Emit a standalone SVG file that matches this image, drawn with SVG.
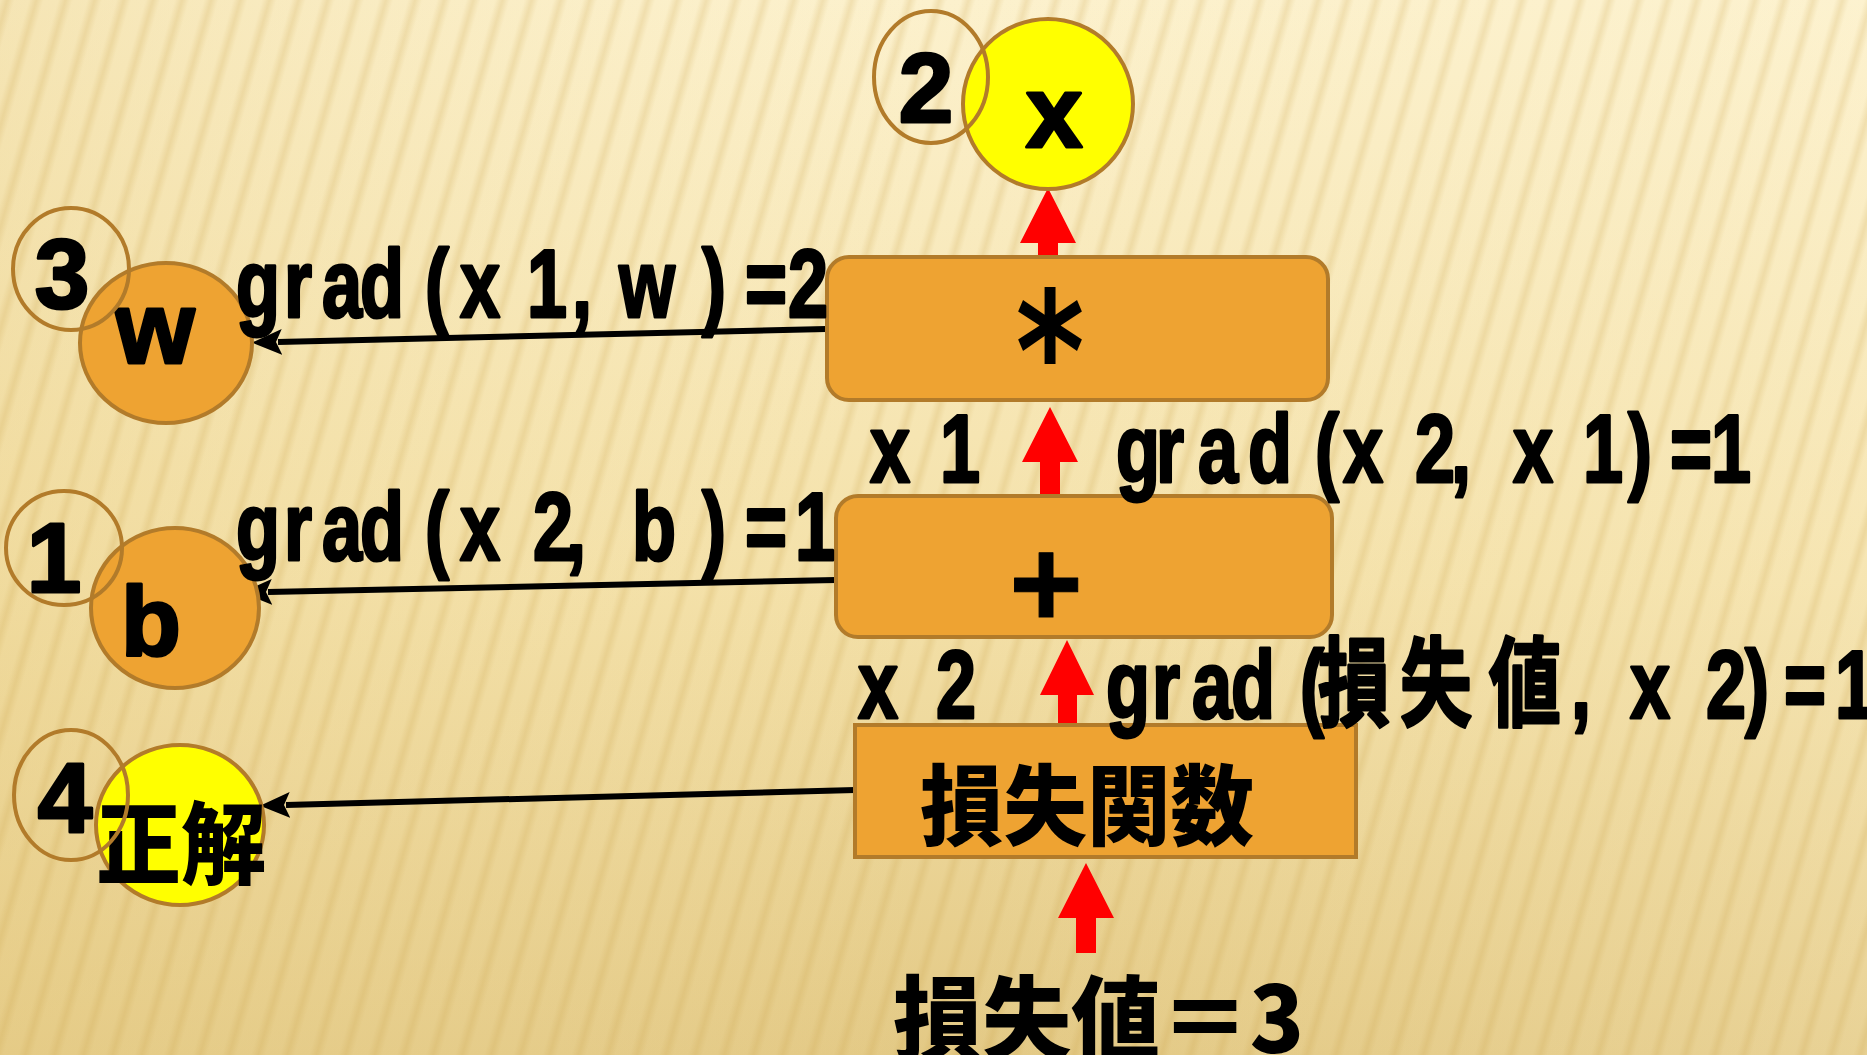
<svg xmlns="http://www.w3.org/2000/svg" width="1867" height="1055" viewBox="0 0 1867 1055">
<defs>
<linearGradient id="bg" x1="0" y1="0" x2="0" y2="1">
<stop offset="0" stop-color="#FCF1CD"/>
<stop offset="0.55" stop-color="#F4E1A9"/>
<stop offset="1" stop-color="#E3C985"/>
</linearGradient>
<linearGradient id="bgSide" x1="0" y1="0" x2="1" y2="0">
<stop offset="0" stop-color="#E9CF88" stop-opacity="0.35"/>
<stop offset="0.5" stop-color="#F6E6B4" stop-opacity="0"/>
<stop offset="1" stop-color="#FFF6D8" stop-opacity="0.2"/>
</linearGradient>
<linearGradient id="stripeGrad" x1="0" y1="0" x2="1" y2="0">
<stop offset="0" stop-color="#C9A24A" stop-opacity="0"/>
<stop offset="0.5" stop-color="#C9A24A" stop-opacity="0.22"/>
<stop offset="1" stop-color="#C9A24A" stop-opacity="0"/>
</linearGradient>
<pattern id="stripes" width="28" height="40" patternUnits="userSpaceOnUse" patternTransform="rotate(16)">
<rect x="0" y="0" width="14" height="40" fill="url(#stripeGrad)"/>
</pattern>
<marker id="ah" markerUnits="userSpaceOnUse" markerWidth="30" markerHeight="28" viewBox="0 0 30 28" refX="4" refY="14" orient="auto">
<path d="M30,14 L0,1 L6,14 L0,27 Z" fill="#000"/>
</marker>
<style>
.t{font-family:"Liberation Sans","Noto Sans CJK JP",sans-serif;font-weight:bold;fill:#000;stroke:#000;stroke-width:3;stroke-linejoin:round}
.num{font-size:98px;text-anchor:middle}
.lab{font-size:96px;stroke-width:3}
.cjk{font-family:"Noto Sans CJK JP",sans-serif;font-weight:900;fill:#000}
.ring{fill:none;stroke:#B27B2A;stroke-width:4}
.orange{fill:#EEA332;stroke:#B27B2A;stroke-width:4}
.yellow{fill:#FFFF00;stroke:#B27B2A;stroke-width:4}
.edge{stroke:#000;stroke-width:6;fill:none;marker-end:url(#ah)}
.red{fill:#FF0000}
</style>
</defs>

<rect x="0" y="0" width="1867" height="1055" fill="url(#bg)"/>
<rect x="0" y="0" width="1867" height="1055" fill="url(#bgSide)"/>
<rect x="0" y="0" width="1867" height="1055" fill="url(#stripes)"/>

<g id="connectors">
<line class="edge" x1="826" y1="329" x2="278" y2="342"/>
<line class="edge" x1="836" y1="580" x2="268" y2="592"/>
<line class="edge" x1="855" y1="790" x2="286" y2="805"/>
<polygon class="red" points="1048,188 1076,243 1058,243 1058,258 1038,258 1038,243 1020,243"/>
<polygon class="red" points="1050,407 1078,462 1060,462 1060,497 1040,497 1040,462 1022,462"/>
<polygon class="red" points="1067,640 1094,695 1077,695 1077,725 1058,725 1058,695 1040,695"/>
<polygon class="red" points="1086,863 1114,918 1096,918 1096,953 1076,953 1076,918 1058,918"/>
</g>

<g id="node-x">
<circle class="yellow" cx="1048" cy="104" r="85"/>
<text class="t" x="1054" y="147" font-size="102" text-anchor="middle">x</text>
</g>
<g id="marker-2">
<ellipse class="ring" cx="931" cy="77" rx="57" ry="66"/>
<text class="t num" x="926" y="122">2</text>
</g>

<g id="node-w">
<ellipse class="orange" cx="166" cy="343" rx="86" ry="80"/>
<text class="t" x="155" y="363" font-size="102" text-anchor="middle">w</text>
</g>
<g id="marker-3">
<ellipse class="ring" cx="71" cy="269" rx="58" ry="61"/>
<text class="t num" x="62" y="308">3</text>
</g>

<g id="node-b">
<ellipse class="orange" cx="175" cy="608" rx="84" ry="80"/>
<text class="t" x="151" y="655" font-size="98" text-anchor="middle">b</text>
</g>
<g id="marker-1">
<ellipse class="ring" cx="64" cy="548" rx="58" ry="57"/>
<text class="t num" x="54" y="592">1</text>
</g>

<g id="node-answer">
<ellipse class="yellow" cx="180" cy="825" rx="84" ry="80"/>
<text class="cjk" x="96" y="877" font-size="90" textLength="170" lengthAdjust="spacingAndGlyphs">正解</text>
</g>
<g id="marker-4">
<ellipse class="ring" cx="71" cy="795" rx="57" ry="65"/>
<text class="t num" x="65" y="832">4</text>
</g>

<g id="node-mul">
<rect class="orange" x="827" y="257" width="501" height="143" rx="22" ry="22"/>
<text class="t" transform="scale(0.8 1)" x="1312.5" y="410" font-size="165" text-anchor="middle" style="font-family:'DejaVu Sans',sans-serif;stroke-width:0">*</text>
</g>

<g id="node-add">
<rect class="orange" x="836" y="496" width="496" height="141" rx="22" ry="22"/>
<text class="t" x="1046" y="627" font-size="126" text-anchor="middle" style="stroke-width:1">+</text>
</g>

<g id="node-loss">
<rect class="orange" x="855" y="725" width="501" height="132"/>
<text class="cjk" x="920" y="838" font-size="88" textLength="334" lengthAdjust="spacingAndGlyphs">損失関数</text>
</g>

<g id="node-lossvalue">
<text class="cjk" x="893" y="1053" font-size="92" textLength="411" lengthAdjust="spacingAndGlyphs">損失値＝3</text>
</g>

<g id="labels">
<text class="t lab" transform="scale(0.75 1)" y="317" x="314.7 378.7 429.3 480 566.7 613.3 702.7 762.7 780 825.3 936 993.3 1050.7">grad(x1, w)=2</text>
<text class="t lab" transform="scale(0.75 1)" y="560" x="314.7 378.7 429.3 480 566.7 613.3 710.7 754.7 786.7 842.7 936 993.3 1060">grad(x2, b)=1</text>
<text class="t lab" transform="scale(0.75 1)" y="482" x="1160 1253.3">x1</text>
<text class="t lab" transform="scale(0.75 1)" y="482" x="1488 1541.3 1597.3 1664 1753.3 1790.7 1886.7 1934.7 1973.3 2017.3 2110.7 2170.7 2226.7 2281.3">grad(x2, x1)=1</text>
<text class="t lab" transform="scale(0.75 1)" y="718" x="1144 1248">x2</text>
<text class="t lab" transform="scale(0.75 1)" y="718" x="1474.7 1536 1589.3 1641.3 1733.3 1757.3 1866.7 1985.3 2094.7 2133.3 2173.3 2274.7 2326.7 2378.7 2446.7">grad(損失値, x2)=1</text>
</g>
</svg>
